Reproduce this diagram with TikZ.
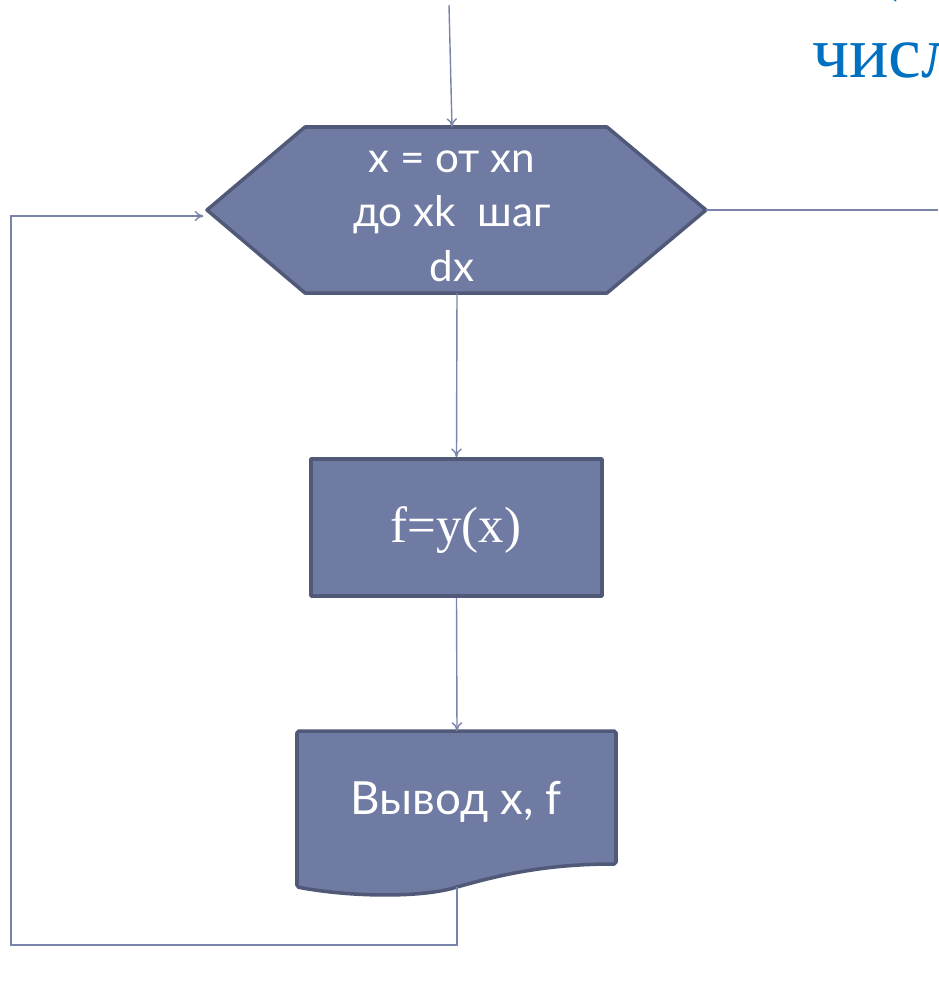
\documentclass[tikz,border=0pt]{standalone}
\usepackage{fontspec}
\setmainfont{Liberation Serif}
\newfontfamily\boxfont{Lato}
\usetikzlibrary{arrows.meta}
\definecolor{fcfill}{RGB}{112,123,163}
\definecolor{fcedge}{RGB}{80,89,120}
\definecolor{fcline}{RGB}{122,132,170}
\definecolor{ttlblue}{RGB}{0,112,192}

\tikzset{
  block/.style={draw=fcedge, fill=fcfill, line width=2pt, line join=round},
  link/.style={fcline, line width=0.8pt},
  flow/.style={link, -{To[length=5pt,width=6pt]}},
  intext/.style={text=white, align=center, inner sep=0pt}
}

\begin{document}
\begin{tikzpicture}[x=0.02cm,y=-0.02cm]
\useasboundingbox (0,0) rectangle (938,988);
% Title (cut off at the edge)
\begin{scope}
\clip (0,0) rectangle (938,988);
\node[ttlblue, anchor=base west, inner sep=0pt, font=\fontsize{42}{48}\selectfont] (ttl) at (812,77) {числ};
\node[ttlblue, anchor=base west, inner sep=0pt, font=\fontsize{42}{48}\selectfont] (ttlup) at (874,-14) {(};
\end{scope}
% Loop header
\coordinate (hexW) at (207,210);
\coordinate (hexE) at (706,210);
\coordinate (hexN) at (452,127);
\coordinate (hexS) at (457,293);
\draw[block] (hexW) -- (305,127) -- (607,127) -- (hexE) -- (607,293) -- (305,293) -- cycle;
\node[intext, font=\boxfont\fontsize{24}{31}\selectfont] (loop) at (452,216) {x = от xn\\до xk\ \ шаг\\dx};
% Process
\node[block, minimum width=291*0.02cm, minimum height=137*0.02cm, inner sep=0pt] (calc) at (456.5,527.5) {};
\node[intext, font=\fontsize{29}{34}\selectfont] (calctxt) at (456,530) {f=y(x)};
% Output document
\coordinate (docN) at (457,731);
\coordinate (docS) at (457,887);
\draw[block, rounded corners=1pt] (297,731) -- (616,731) -- (616,864)
  .. controls (545,864) and (500,875) .. (docS)
  .. controls (420,898) and (350,897) .. (297,887) -- cycle;
\node[intext, font=\boxfont\fontsize{26}{31}\selectfont] (out) at (456,802) {Вывод x, f};
% Connectors
\coordinate (top) at (449,5);
\coordinate (exit) at (938,210);
\coordinate (back) at (11,945);
\draw[flow] (top) -- (hexN);
\draw[link] (hexE) -- (exit);
\draw[flow] (hexS) -- (calc.north);
\draw[flow] (calc.south) -- (docN);
\draw[flow] (docS) |- (back) |- ([xshift=-2]hexW |- 0,216);
\end{tikzpicture}
\end{document}
